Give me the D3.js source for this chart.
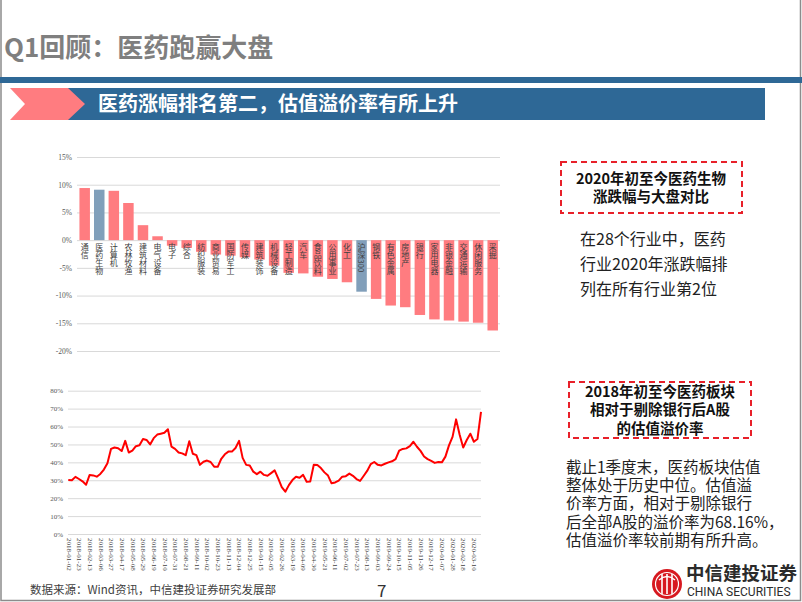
<!DOCTYPE html>
<html><head><meta charset="utf-8">
<script src="https://cdn.jsdelivr.net/npm/d3@7"></script>
<style>
html,body{margin:0;padding:0;background:#fff;}
svg{display:block;}
</style>
</head><body>
<svg id="c" width="802" height="602"></svg>
<script>
// ---------- DATA ----------
const industries = ["通信","医药生物","计算机","农林牧渔","建筑材料","电气设备","电子","综合","纺织服装","商业贸易","国防军工","传媒","建筑装饰","机械设备","轻工制造","汽车","食品饮料","公用事业","化工","沪深300","钢铁","有色金属","房地产","银行","家用电器","非银金融","交通运输","休闲服务","采掘"];
const changePct = [9.4,9.1,8.9,6.7,2.7,0.7,-1.0,-1.4,-2.1,-2.6,-2.8,-3.1,-3.5,-4.6,-5.9,-6.0,-6.6,-7.0,-7.6,-9.3,-10.6,-11.8,-12.1,-13.5,-14.3,-14.5,-14.7,-14.9,-16.3];
const highlighted = ["医药生物","沪深300"];
const barTicks = [15,10,5,0,-5,-10,-15,-20];

const premiumDates = [
"2018-01-02","2018-01-09","2018-01-16","2018-01-23","2018-01-30","2018-02-06","2018-02-13","2018-02-20","2018-02-27","2018-03-06","2018-03-13","2018-03-20","2018-03-27","2018-04-03","2018-04-10","2018-04-17","2018-04-24","2018-05-01","2018-05-08","2018-05-15","2018-05-22","2018-05-29","2018-06-05","2018-06-12","2018-06-19","2018-06-26","2018-07-03","2018-07-10","2018-07-17","2018-07-24","2018-07-31","2018-08-07","2018-08-14","2018-08-21","2018-08-28","2018-09-04","2018-09-11","2018-09-18","2018-09-25","2018-10-02","2018-10-09","2018-10-16","2018-10-23","2018-10-30","2018-11-06","2018-11-13","2018-11-20","2018-11-27","2018-12-04","2018-12-11","2018-12-18","2018-12-25",
"2019-01-01","2019-01-08","2019-01-15","2019-01-22","2019-01-29","2019-02-05","2019-02-12","2019-02-19","2019-02-26","2019-03-05","2019-03-12","2019-03-19","2019-03-26","2019-04-02","2019-04-09","2019-04-16","2019-04-23","2019-04-30","2019-05-07","2019-05-14","2019-05-21","2019-05-28","2019-06-04","2019-06-11","2019-06-18","2019-06-25","2019-07-02","2019-07-09","2019-07-16","2019-07-23","2019-07-30","2019-08-06","2019-08-13","2019-08-20","2019-08-27","2019-09-03","2019-09-10","2019-09-17","2019-09-24","2019-10-01","2019-10-08","2019-10-15","2019-10-22","2019-10-29","2019-11-05","2019-11-12","2019-11-19","2019-11-26","2019-12-03","2019-12-10","2019-12-17","2019-12-24","2019-12-31",
"2020-01-07","2020-01-14","2020-01-21","2020-01-28","2020-02-04","2020-02-11","2020-02-18","2020-02-25","2020-03-03","2020-03-10","2020-03-17","2020-03-24"];
const premiumValues = [
30.1,30.0,31.9,30.7,29.4,27.5,33.0,32.7,32.0,33.5,36.0,39.5,47.5,48.3,47.9,46.3,52.0,45.5,46.5,49.0,49.5,53.0,52.5,50.0,53.5,55.5,56.0,56.5,58.5,48.8,47.5,45.5,45.0,44.0,51.8,44.8,44.0,38.6,40.3,41.0,40.2,37.6,37.5,42.0,44.5,46.0,46.0,48.0,52.0,42.5,38.6,38.2,
34.8,33.4,34.8,33.0,32.5,34.0,35.5,31.0,26.2,23.6,27.3,30.1,32.0,31.4,33.0,29.2,29.3,38.7,38.5,36.8,34.4,32.6,28.3,28.8,29.8,32.0,32.3,33.7,32.5,30.7,29.6,32.4,35.2,39.0,40.2,38.6,38.3,39.2,40.0,40.6,41.8,46.5,47.5,47.8,49.1,51.5,48.7,46.4,43.3,41.8,40.8,39.7,40.2,
40.0,43.2,49.5,54.2,64.0,55.4,48.3,52.5,56.0,51.5,53.0,68.2];
const lineTicks = [0,10,20,30,40,50,60,70,80];
const dateTickLabels = ["2018-01-02","2018-01-23","2018-02-13","2018-03-06","2018-03-27","2018-04-17","2018-05-08","2018-05-29","2018-06-19","2018-07-10","2018-07-31","2018-08-21","2018-09-11","2018-10-02","2018-10-23","2018-11-13","2018-12-04","2018-12-25","2019-01-15","2019-02-05","2019-02-26","2019-03-19","2019-04-09","2019-04-30","2019-05-21","2019-06-11","2019-07-02","2019-07-23","2019-08-13","2019-09-03","2019-09-24","2019-10-15","2019-11-05","2019-11-26","2019-12-17","2020-01-07","2020-01-28","2020-02-18","2020-03-10"];

const pageTitle = "Q1回顾：医药跑赢大盘";
const bannerText = "医药涨幅排名第二，估值溢价率有所上升";
const box1Lines = ["2020年初至今医药生物","涨跌幅与大盘对比"];
const note1Lines = ["在28个行业中，医药","行业2020年涨跌幅排","列在所有行业第2位"];
const box2Lines = ["2018年初至今医药板块","相对于剔除银行后A股","的估值溢价率"];
const note2Lines = ["截止1季度末，医药板块估值","整体处于历史中位。估值溢","价率方面，相对于剔除银行","后全部A股的溢价率为68.16%，","估值溢价率较前期有所升高。"];
const sourceText = "数据来源：Wind资讯，中信建投证券研究发展部";

// ---------- DRAW ----------
const svg = d3.select("#c");
const CJK = "'Noto Sans CJK SC','Noto Sans',sans-serif";
const SERIF = "'Liberation Serif','DejaVu Serif',serif";

// frame
svg.append("path").attr("d","M1,0 V600.5 H800.5 V0").attr("fill","none").attr("stroke","#8c8c8c").attr("stroke-width",1.5);

// title
svg.append("text").attr("x",4).attr("y",57).text(pageTitle)
  .attr("font-family",CJK).attr("font-weight","bold").attr("font-size",26).attr("fill","#7f7f7f");

// stripe + banner
svg.append("rect").attr("x",0).attr("y",77).attr("width",802).attr("height",6).attr("fill","#2e6896");
svg.append("rect").attr("x",68).attr("y",88).attr("width",697).attr("height",32).attr("fill","#2e6896");
svg.append("polygon").attr("points","10,88 68,88 85,104 68,120 10,120 25,104").attr("fill","#ff7c80");
svg.append("text").attr("x",98).attr("y",111).text(bannerText)
  .attr("font-family",CJK).attr("font-weight","bold").attr("font-size",20).attr("fill","#fff");

// ---- bar chart ----
const xB = d3.scaleBand().domain(industries).range([77.4,500]).paddingInner(0.28).paddingOuter(0.14);
const yB = d3.scaleLinear().domain([-20,15]).range([351,157]);
const gB = svg.append("g");
const axB = d3.axisLeft(yB).tickValues(barTicks).tickSize(-(500-77)).tickFormat(d=>d+"%");
const axBG = gB.append("g").attr("transform","translate(77,0)").call(axB);
axBG.select(".domain").remove();
axBG.selectAll(".tick line").attr("stroke","#d9d9d9").attr("stroke-width",1);
axBG.selectAll(".tick text").attr("x",-5).attr("font-family",SERIF).attr("font-size",7.5).attr("fill","#595959");

gB.selectAll("rect.bar").data(industries).join("rect").attr("class","bar")
  .attr("x",d=>xB(d)).attr("width",xB.bandwidth())
  .attr("y",(d,i)=>yB(Math.max(0,changePct[i])))
  .attr("height",(d,i)=>Math.abs(yB(changePct[i])-yB(0)))
  .attr("fill",d=>highlighted.includes(d)?"#819fba":"#ff7c80");

gB.selectAll("text.cat").data(industries).join("text").attr("class","cat")
  .attr("x",d=>xB(d)+xB.bandwidth()/2).attr("y",yB(0)+3)
  .style("writing-mode","vertical-rl")
  .attr("font-family",CJK).attr("font-size",8).attr("fill","#404040")
  .text(d=>d);

// ---- line chart ----
const parse = d3.timeParse("%Y-%m-%d");
const xL = d3.scaleTime().domain([parse(premiumDates[0]),parse(premiumDates[premiumDates.length-1])]).range([68.3,481]);
const yL = d3.scaleLinear().domain([0,80]).range([534,390.7]);
const gL = svg.append("g");
const axL = d3.axisLeft(yL).tickValues(lineTicks).tickSize(-(481-68)).tickFormat(d=>d+"%");
const axLG = gL.append("g").attr("transform","translate(68,0)").call(axL);
axLG.select(".domain").remove();
axLG.selectAll(".tick line").attr("stroke","#d9d9d9").attr("stroke-width",1);
axLG.selectAll(".tick text").attr("x",-5).attr("font-family",SERIF).attr("font-size",7).attr("fill","#595959");

const axX = d3.axisBottom(xL).tickValues(dateTickLabels.map(parse)).tickSize(0).tickFormat(d3.timeFormat("%Y-%m-%d"));
const axXG = gL.append("g").attr("transform","translate(0,536)").call(axX);
axXG.select(".domain").remove();
axXG.selectAll(".tick text").attr("transform","rotate(90)").attr("x",2).attr("y",0).attr("dy","0.32em")
  .attr("text-anchor","start").attr("font-family",SERIF).attr("font-size",7).attr("fill","#404040");

const line = d3.line().x((d,i)=>xL(parse(premiumDates[i]))).y(d=>yL(d));
gL.append("path").datum(premiumValues).attr("d",line).attr("fill","none")
  .attr("stroke","#ff0000").attr("stroke-width",2).attr("stroke-linejoin","round");

// ---- right notes ----
function dashedBox(x,y,w,h){
  svg.append("rect").attr("x",x).attr("y",y).attr("width",w).attr("height",h)
    .attr("fill","none").attr("stroke","#e8202a").attr("stroke-width",2).attr("stroke-dasharray","6,4");
}
function paragraph(lines,x,y,lh,opts){
  const t = svg.append("text").attr("x",x).attr("y",y)
    .attr("font-family",CJK).attr("font-size",opts.size).attr("fill",opts.fill)
    .attr("font-weight",opts.weight||"normal").attr("text-anchor",opts.anchor||"start");
  lines.forEach((s,i)=>t.append("tspan").attr("x",x).attr("dy",i===0?0:lh).text(s));
}
dashedBox(561,162,181,51);
paragraph(box1Lines,651,184,18,{size:14.5,fill:"#111",weight:"bold",anchor:"middle"});
paragraph(note1Lines,580,245,25,{size:16,fill:"#222"});

dashedBox(569,382,182,56);
paragraph(box2Lines,660,397,18.3,{size:14.5,fill:"#111",weight:"bold",anchor:"middle"});
paragraph(note2Lines,566,473,18.2,{size:15.5,fill:"#222"});

// ---- footer ----
svg.append("text").attr("x",30).attr("y",594).text(sourceText)
  .attr("font-family",CJK).attr("font-size",11.5).attr("fill","#404040");
svg.append("text").attr("x",377).attr("y",597).text("7")
  .attr("font-family",CJK).attr("font-size",17).attr("fill","#333");

// logo
const lg = svg.append("g").attr("transform","translate(667,584)");
lg.append("circle").attr("r",15).attr("fill","#d71920");
lg.append("circle").attr("r",11.5).attr("fill","none").attr("stroke","#fff").attr("stroke-width",1.2);
[-5,0,5].forEach(dx=>lg.append("line").attr("x1",dx).attr("x2",dx).attr("y1",-10).attr("y2",10).attr("stroke","#fff").attr("stroke-width",1.6));
lg.append("path").attr("d","M-8,-4 Q0,-11 8,-4").attr("fill","none").attr("stroke","#fff").attr("stroke-width",1.4);
svg.append("text").attr("x",686).attr("y",580).text("中信建投证券")
  .attr("font-family",CJK).attr("font-weight","bold").attr("font-size",18.5).attr("fill","#2b2b2b");
svg.append("text").attr("x",687).attr("y",596).text("CHINA SECURITIES")
  .attr("font-family","'Liberation Sans Narrow','Roboto',sans-serif").attr("font-size",12).attr("fill","#2b2b2b");
</script>
</body></html>
